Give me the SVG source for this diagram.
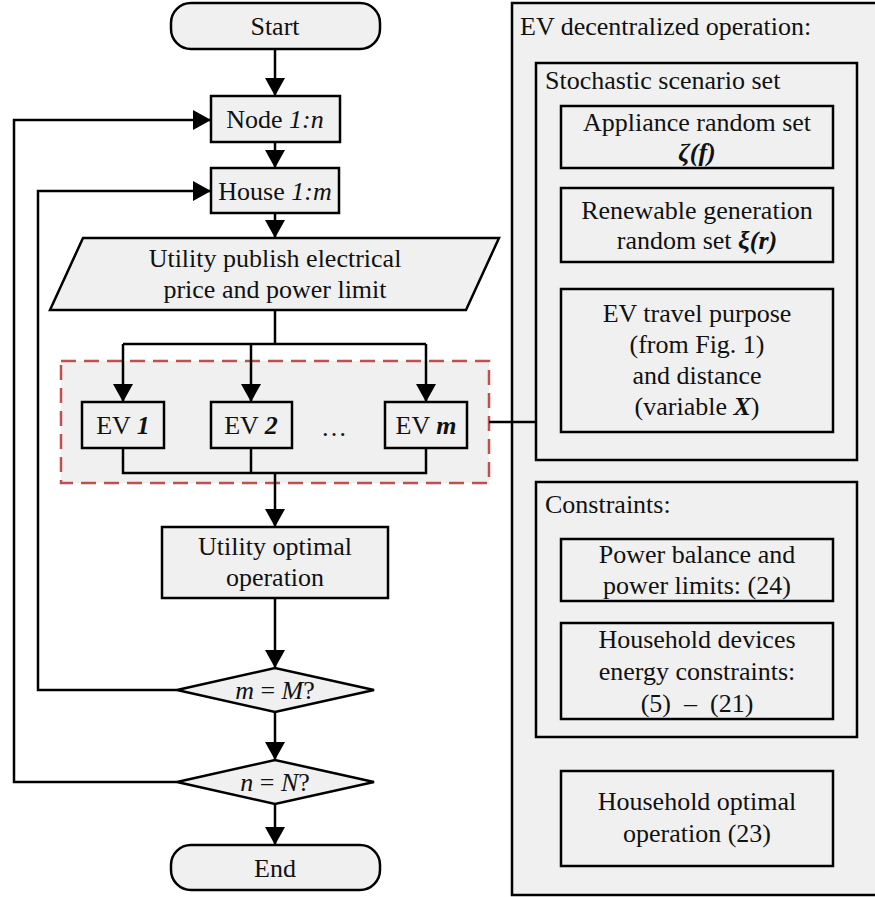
<svg xmlns="http://www.w3.org/2000/svg" width="875" height="897" viewBox="0 0 875 897">
<style>
.t{font-family:'Liberation Serif','DejaVu Serif',serif;font-size:26px;fill:#111;}
.c{text-anchor:middle;}
.b{fill:#f0f0f0;stroke:#000;stroke-width:2.5;}
.ln{fill:none;stroke:#000;stroke-width:2.5;}
.i{font-style:italic;}
.bi{font-style:italic;font-weight:bold;}
</style>
<defs>
<marker id="ar" markerUnits="userSpaceOnUse" markerWidth="20" markerHeight="20" viewBox="0 0 20 20" refX="18" refY="10" orient="auto">
<path d="M0,0 L18,10 L0,20 Z" fill="#000"/>
</marker>
</defs>
<rect width="875" height="897" fill="#fff"/>

<g id="panel">
<rect x="512" y="3" width="370" height="892" class="b"/>
<text x="520" y="35" class="t">EV decentralized operation:</text>
</g>
<g id="stochastic">
<rect x="536" y="63" width="321" height="397" class="b"/>
<text x="545" y="89" class="t">Stochastic scenario set</text>
</g>
<g id="appliance">
<rect x="561" y="106" width="272" height="62" class="b"/>
<text x="697" y="131" class="t c">Appliance random set</text>
<text x="697" y="161" class="t c bi">ζ(f)</text>
</g>
<g id="renewable">
<rect x="561" y="188" width="272" height="74" class="b"/>
<text x="697" y="219" class="t c">Renewable generation</text>
<text x="697" y="249" class="t c">random set <tspan class="bi">ξ(r)</tspan></text>
</g>
<g id="evtravel">
<rect x="561" y="289" width="272" height="143" class="b"/>
<text x="697" y="322" class="t c">EV travel purpose</text>
<text x="697" y="353" class="t c">(from Fig. 1)</text>
<text x="697" y="384" class="t c">and distance</text>
<text x="697" y="415" class="t c">(variable <tspan class="bi">X</tspan>)</text>
</g>
<g id="constraints">
<rect x="536" y="482" width="321" height="255" class="b"/>
<text x="545" y="513" class="t">Constraints:</text>
</g>
<g id="powerbalance">
<rect x="561" y="539" width="272" height="62" class="b"/>
<text x="697" y="563" class="t c">Power balance and</text>
<text x="697" y="594" class="t c">power limits: (24)</text>
</g>
<g id="household">
<rect x="561" y="623" width="272" height="96" class="b"/>
<text x="697" y="648" class="t c">Household devices</text>
<text x="697" y="680" class="t c">energy constraints:</text>
<text x="697" y="712" class="t c" xml:space="preserve">(5)  –  (21)</text>
</g>
<g id="householdopt">
<rect x="561" y="771" width="272" height="95" class="b"/>
<text x="697" y="810" class="t c">Household optimal</text>
<text x="697" y="842" class="t c">operation (23)</text>
</g>

<g id="evgroup">
<rect x="61" y="361" width="428" height="122" fill="#f0f0f0" stroke="#c0504d" stroke-width="2.5" stroke-dasharray="15,8"/>
</g>

<g id="connectors">
<line x1="275" y1="49" x2="275" y2="96" class="ln" marker-end="url(#ar)"/>
<line x1="275" y1="142" x2="275" y2="168" class="ln" marker-end="url(#ar)"/>
<line x1="275" y1="213" x2="275" y2="238" class="ln" marker-end="url(#ar)"/>
<polyline points="275,310 275,344" class="ln"/>
<polyline points="123,344 426,344" class="ln"/>
<line x1="123" y1="344" x2="123" y2="402" class="ln" marker-end="url(#ar)"/>
<line x1="251" y1="344" x2="251" y2="402" class="ln" marker-end="url(#ar)"/>
<line x1="426" y1="344" x2="426" y2="402" class="ln" marker-end="url(#ar)"/>
<polyline points="123,448 123,473 426,473 426,448" class="ln"/>
<line x1="251" y1="448" x2="251" y2="473" class="ln"/>
<line x1="275" y1="473" x2="275" y2="527" class="ln" marker-end="url(#ar)"/>
<line x1="275" y1="598" x2="275" y2="668" class="ln" marker-end="url(#ar)"/>
<line x1="275" y1="712" x2="275" y2="760" class="ln" marker-end="url(#ar)"/>
<line x1="275" y1="804" x2="275" y2="845" class="ln" marker-end="url(#ar)"/>
<polyline points="177,690 38,690 38,191 211,191" class="ln" marker-end="url(#ar)"/>
<polyline points="177,782 14,782 14,120 211,120" class="ln" marker-end="url(#ar)"/>
<line x1="489" y1="422" x2="536" y2="422" class="ln"/>
</g>

<g id="start">
<rect x="171" y="3" width="209" height="46" rx="20" class="b"/>
<text x="275" y="35" class="t c">Start</text>
</g>
<g id="node">
<rect x="211" y="96" width="129" height="46" class="b"/>
<text x="275" y="128" class="t c">Node <tspan class="i">1:n</tspan></text>
</g>
<g id="house">
<rect x="211" y="168" width="128" height="45" class="b"/>
<text x="275" y="200" class="t c">House <tspan class="i">1:m</tspan></text>
</g>
<g id="publish">
<polygon points="83,238 499,238 466,310 50,310" class="b"/>
<text x="275" y="267" class="t c">Utility publish electrical</text>
<text x="275" y="298" class="t c">price and power limit</text>
</g>
<g id="ev1">
<rect x="82" y="402" width="82" height="46" class="b"/>
<text x="123" y="434" class="t c">EV <tspan class="bi">1</tspan></text>
</g>
<g id="ev2">
<rect x="211" y="402" width="81" height="46" class="b"/>
<text x="251" y="434" class="t c">EV <tspan class="bi">2</tspan></text>
</g>
<g id="dots">
<text x="334" y="436" class="t c">…</text>
</g>
<g id="evm">
<rect x="385" y="402" width="82" height="46" class="b"/>
<text x="426" y="434" class="t c">EV <tspan class="bi">m</tspan></text>
</g>
<g id="utilityopt">
<rect x="162" y="527" width="226" height="71" class="b"/>
<text x="275" y="555" class="t c">Utility optimal</text>
<text x="275" y="586" class="t c">operation</text>
</g>
<g id="decm">
<polygon points="177,690 275,668 374,690 275,712" class="b"/>
<text x="275" y="699" class="t c"><tspan class="i">m</tspan> = <tspan class="i">M</tspan>?</text>
</g>
<g id="decn">
<polygon points="177,782 275,760 374,782 275,804" class="b"/>
<text x="275" y="791" class="t c"><tspan class="i">n</tspan> = <tspan class="i">N</tspan>?</text>
</g>
<g id="end">
<rect x="171" y="845" width="209" height="45" rx="20" class="b"/>
<text x="275" y="877" class="t c">End</text>
</g>
</svg>
